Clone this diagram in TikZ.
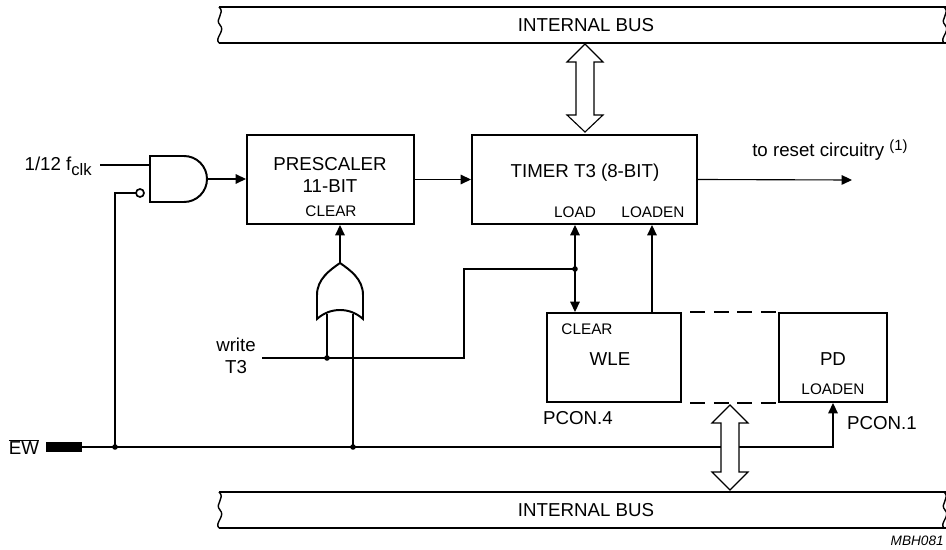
\documentclass[tikz,border=0pt]{standalone}
\usepackage{fontspec}
\setmainfont{Liberation Sans}
\usetikzlibrary{arrows.meta}

\begin{document}
\begin{tikzpicture}[x=0.025cm, y=-0.025cm,
    every node/.style={font=\fontsize{13.3}{15.6}\selectfont, inner sep=0pt},
    blockbox/.style={rectangle, draw, line width=1.4pt, minimum height=2.225cm},
    pinlbl/.style={font=\fontsize{10.9}{13}\selectfont},
    wire/.style={line width=0.8pt},
    sig/.style={line width=0.8pt, -{Triangle[length=2.6mm, width=2.4mm]}},
    gate/.style={line width=1.4pt},
    busline/.style={line width=1pt}]
    \useasboundingbox (0,0) rectangle (946,550);

    % Internal buses
    \node (topbus) at (586,25) {INTERNAL BUS};
    \node (botbus) at (586,510) {INTERNAL BUS};
    \foreach \y in {7,492} {
        \draw[busline] (219,\y) -- (946,\y) (219,\y+36) -- (946,\y+36);
        \draw[busline] (219,\y) .. controls (226,\y+6) and (214,\y+12) .. (220,\y+18) .. controls (226,\y+24) and (214,\y+31) .. (219,\y+36);
        \draw[busline] (944,\y) .. controls (951,\y+6) and (939,\y+12) .. (945,\y+18) .. controls (951,\y+24) and (939,\y+31) .. (944,\y+36);
    }

    % Blocks
    \node[blockbox, minimum width=4.175cm] (presc) at (330.5,179.5) {};
    \node[blockbox, minimum width=5.625cm] (timer) at (584.5,179.5) {};
    \node[blockbox, minimum width=3.35cm] (wle) at (614,357.5) {};
    \node[blockbox, minimum width=2.7cm] (pd) at (833,357.5) {};

    % Block texts
    \node[align=center] (presctxt) at (330,175) {PRESCALER\\11-BIT};
    \node[pinlbl] (prescclr) at (331,211) {CLEAR};
    \node (timertxt) at (585,173) {TIMER T3 (8-BIT)};
    \node[pinlbl] (tload) at (575,212) {LOAD};
    \node[pinlbl] (tloaden) at (653,212) {LOADEN};
    \node[pinlbl] (wleclr) at (587,329) {CLEAR};
    \node (wletxt) at (610,359) {WLE};
    \node (pdtxt) at (833,359) {PD};
    \node[pinlbl] (pdloaden) at (833,389) {LOADEN};
    \node (pcon4) at (578,418) {PCON.4};
    \node (pcon1) at (882,423) {PCON.1};

    % AND gate with inverted input
    \draw[gate] (150,156) -- (184,156) arc[start angle=-90, end angle=90, radius=23] -- (150,202) -- cycle;
    \draw[line width=1.2pt] (140,193) circle[radius=4];
    \coordinate (andA) at (150,165);
    \coordinate (andB) at (136,193);
    \coordinate (andOut) at (207,179);

    % OR gate
    \draw[gate] (317,319) -- (317,295) .. controls (317,279) and (330,270) .. (340,263)
        .. controls (350,270) and (363,279) .. (363,295) -- (363,319)
        .. controls (350,307) and (330,307) .. cycle;
    \coordinate (orOut) at (340,263);
    \coordinate (orA) at (327,314);
    \coordinate (orB) at (353,314);

    % Inputs
    \node[anchor=base east] (fclk) at (92,171) {1/12 f\raisebox{-3.5pt}{\fontsize{11.8}{13}\selectfont clk}};
    \coordinate (fclkEnd) at (100,165);
    \node[align=center] (writelbl) at (236,356) {write\\T3};
    \coordinate (wrStart) at (262,358);
    \node (ewlbl) at (24,447) {$\overline{\mbox{EW}}$};
    \fill (46,442) rectangle (82,452);
    \coordinate (ewPin) at (82,447);

    % Junctions
    \coordinate (wrDot) at (327,358);
    \coordinate (ldDot) at (575,269);
    \coordinate (ewDotA) at (115,447);
    \coordinate (ewDotB) at (353,447);
    \coordinate (wlen) at (652,313);
    \coordinate (reset) at (852,180);

    % Connections
    \draw[wire] (fclkEnd) -- (andA);
    \draw[sig] (andOut) -- (presc.west |- andOut);
    \draw[sig] (presc.east) -- (timer.west);
    \draw[sig] (timer.east) -- (reset);
    \node[anchor=base west] (resettxt) at (752,157) {to reset circuitry \raisebox{4.5pt}{\fontsize{10.5}{12}\selectfont(1)}};
    \draw[sig] (orOut) -- (orOut |- presc.south);
    \draw[wire] (orA) -- (wrDot);
    \draw[wire] (orB) -- (ewDotB);
    \draw[wire] (wrStart) -- (464,358) |- (ldDot);
    \draw[sig] (ldDot) -- (ldDot |- timer.south);
    \draw[sig] (ldDot) -- (ldDot |- wle.north);
    \draw[sig] (wlen) -- (wlen |- timer.south);
    \draw[wire] (andB) -| (ewDotA);
    \draw[sig] (ewPin) -| (pd.south);
    \foreach \p in {wrDot, ldDot, ewDotA, ewDotB}
        \fill (\p) circle[radius=2.8];

    % Dashed link WLE - PD
    \draw[line width=1.4pt, dash pattern=on 10.7pt off 6pt, dash phase=10.7pt] (wle.north east) -- (pd.north west);
    \draw[line width=1.4pt, dash pattern=on 10.7pt off 6pt, dash phase=10.7pt] (wle.south east) -- (pd.south west);

    % Bus transfer arrows
    \draw[wire, fill=white] (585,44) -- (603,62) -- (594,62) -- (594,115) -- (603,115) -- (585,132)
        -- (567,115) -- (576,115) -- (576,62) -- (567,62) -- cycle;
    \draw[wire, fill=white] (730,405) -- (748,423) -- (739,423) -- (739,472) -- (748,472) -- (730,490)
        -- (712,472) -- (721,472) -- (721,423) -- (712,423) -- cycle;

    \node[anchor=east, font=\fontsize{9.7}{11}\selectfont\itshape] (mbh) at (944,541) {MBH081};
\end{tikzpicture}
\end{document}
